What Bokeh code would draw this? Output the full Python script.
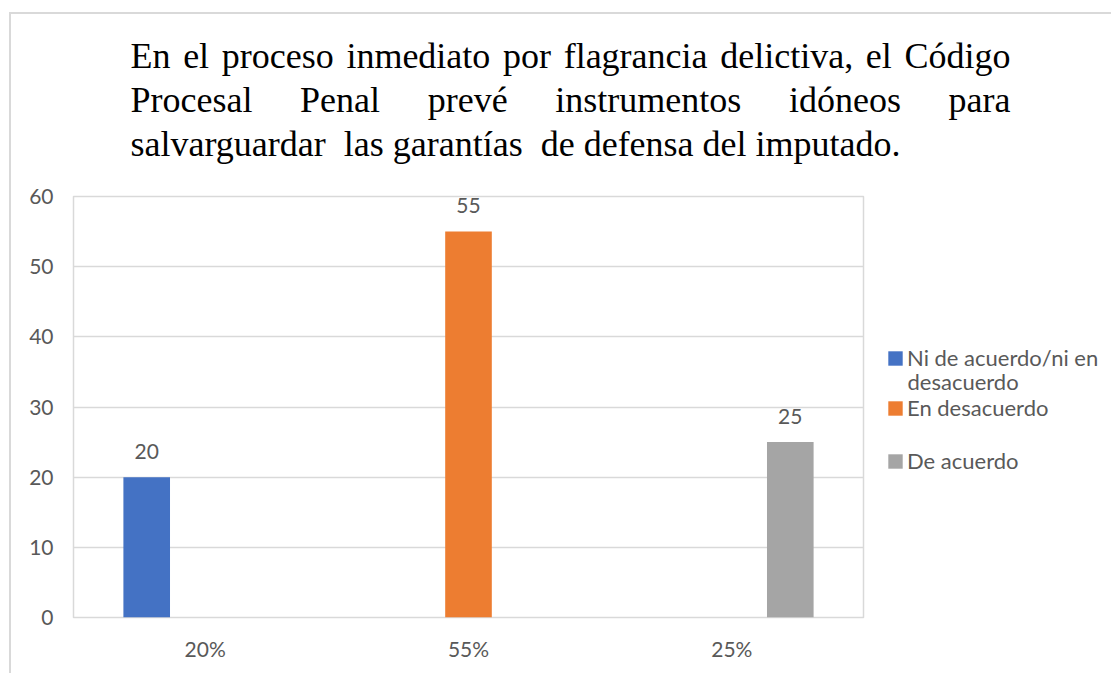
from bokeh.plotting import figure
from bokeh.layouts import column, row
from bokeh.models import (ColumnDataSource, FactorRange, LabelSet, Label, Legend,
                          LegendItem, FixedTicker)
from bokeh.transform import dodge
from bokeh.core.properties import value
from bokeh.embed import file_html
from bokeh.resources import INLINE

# ---------------- data ----------------
categories = ["20%", "55%", "25%"]
series_names = ["Ni de acuerdo/ni en desacuerdo", "En desacuerdo", "De acuerdo"]
ni_values = [20, None, None]
desacuerdo_values = [None, 55, None]
acuerdo_values = [None, None, 25]
y_ticks = [0, 10, 20, 30, 40, 50, 60]
title_lines = [
    "En el proceso inmediato por flagrancia delictiva, el Código",
    "Procesal Penal prevé instrumentos idóneos para",
    "salvarguardar  las garantías  de defensa del imputado.",
]

colors = ["#4472C4", "#ED7D31", "#A5A5A5"]
offsets = [-0.222, 0.0, 0.222]
TEXT = "#595959"
FONT = "Lato"
SERIF = "Liberation Serif"

TW, TH = 1100, 160      # title strip
MW, MH = 857, 499       # main chart
LW = 240                # legend strip


def bare(fig):
    fig.xgrid.grid_line_color = None
    fig.ygrid.grid_line_color = None
    fig.outline_line_color = None
    fig.background_fill_color = "white"
    fig.border_fill_color = "white"


# ---------------- title strip ----------------
tp = figure(width=TW, height=TH, x_range=(0, TW), y_range=(0, TH), title=None,
            output_backend="svg", toolbar_location=None,
            x_axis_location=None, y_axis_location=None,
            min_border=0, min_border_left=0, min_border_right=0,
            min_border_top=0, min_border_bottom=0)
bare(tp)

W = {" ": 250, ",": 250, ".": 250, "/": 278, "a": 444, "b": 500, "c": 444, "d": 500,
     "e": 444, "f": 333, "g": 500, "h": 500, "i": 278, "j": 278, "k": 500, "l": 278,
     "m": 778, "n": 500, "o": 500, "p": 500, "q": 500, "r": 333, "s": 389, "t": 278,
     "u": 500, "v": 500, "w": 722, "x": 500, "y": 500, "z": 444, "C": 667, "E": 611,
     "P": 556, "á": 444, "é": 444, "í": 278, "ó": 500}
FS = 36
left_x, right_x = 119, 999
base_y = [119, 75, 31]


def wlen(s):
    return sum(W.get(ch, 500) for ch in s) * FS / 1000.0


def tlabel(x, y, t):
    tp.add_layout(Label(x=x, y=y, text=t, text_font=SERIF, text_font_size=f"{FS}px",
                        text_color="black", text_baseline="alphabetic"))


for li, (line, by) in enumerate(zip(title_lines, base_y)):
    if li == len(title_lines) - 1:
        tlabel(left_x, by, line.replace("  ", "\u00a0 "))
        continue
    words = line.split()
    total = sum(wlen(w) for w in words)
    gap = (right_x - left_x - total) / (len(words) - 1)
    x = left_x
    for w in words:
        tlabel(x, by, w)
        x += wlen(w) + gap

# ---------------- main chart ----------------
p = figure(x_range=FactorRange(*categories), y_range=(0, 60), title=None,
           width=MW, height=MH, output_backend="svg", toolbar_location=None,
           min_border_left=62, min_border_right=5, min_border_top=22,
           min_border_bottom=56)
p.frame_width = 790
p.frame_height = 421

for vals, col, off in zip([ni_values, desacuerdo_values, acuerdo_values], colors, offsets):
    xs = [c for c, v in zip(categories, vals) if v is not None]
    ys = [v for v in vals if v is not None]
    src = ColumnDataSource(dict(x=xs, y=ys, lbl=[str(v) for v in ys]))
    p.vbar(x=dodge("x", off, range=p.x_range), top="y", width=0.177, source=src,
           fill_color=col, line_color=None)
    p.add_layout(LabelSet(x=dodge("x", off, range=p.x_range), y="y", text="lbl",
                          source=src, y_offset=26, text_align="center",
                          text_baseline="middle", text_font=value(FONT),
                          text_font_size="21px", text_color=TEXT))

p.yaxis.ticker = FixedTicker(ticks=y_ticks)
for ax in (p.xaxis[0], p.yaxis[0]):
    ax.axis_line_color = None
    ax.major_tick_line_color = None
    ax.minor_tick_line_color = None
    ax.major_tick_in = 0
    ax.major_tick_out = 0
    ax.major_label_text_font = FONT
    ax.major_label_text_font_size = "21px"
    ax.major_label_text_color = TEXT
p.yaxis.major_label_standoff = 20
p.xaxis.major_label_standoff = 18
p.xgrid.grid_line_color = None
p.ygrid.grid_line_color = "#d9d9d9"
p.ygrid.grid_line_width = 1.5
p.outline_line_color = "#d9d9d9"
p.outline_line_width = 1.5
p.background_fill_color = "white"
p.border_fill_color = "white"

# ---------------- legend strip ----------------
lp = figure(width=LW, height=MH, x_range=(0, LW), y_range=(0, MH), title=None,
            output_backend="svg", toolbar_location=None,
            x_axis_location=None, y_axis_location=None,
            min_border=0, min_border_left=0, min_border_right=0,
            min_border_top=0, min_border_bottom=0)
bare(lp)
legend_vy = [246, 196, 143]
nan = float("nan")
for i, (name, col, vy) in enumerate(zip(series_names, colors, legend_vy)):
    proxy = lp.vbar(x=[nan], top=[nan], width=1, fill_color=col, line_color=None)
    lab = "Ni de acuerdo/ni en" if i == 0 else name
    lg = Legend(items=[LegendItem(label=lab, renderers=[proxy])], location=(18, vy),
                glyph_width=18, glyph_height=18, label_standoff=3, padding=0,
                margin=0, border_line_color=None, background_fill_alpha=0,
                label_text_font=FONT, label_text_font_size="22px",
                label_text_color=TEXT, label_text_baseline="middle")
    lp.add_layout(lg, "center")
lp.add_layout(Label(x=39, y=280, text="desacuerdo", text_font=FONT,
                    text_font_size="22px", text_color=TEXT,
                    text_baseline="alphabetic"))

layout = column(tp, row(p, lp), margin=(12, 0, 0, 9),
                styles={"border-left": "2px solid #d9d9d9",
                        "border-top": "2px solid #d9d9d9"})

open("out.html", "w").write(file_html(layout, INLINE))
